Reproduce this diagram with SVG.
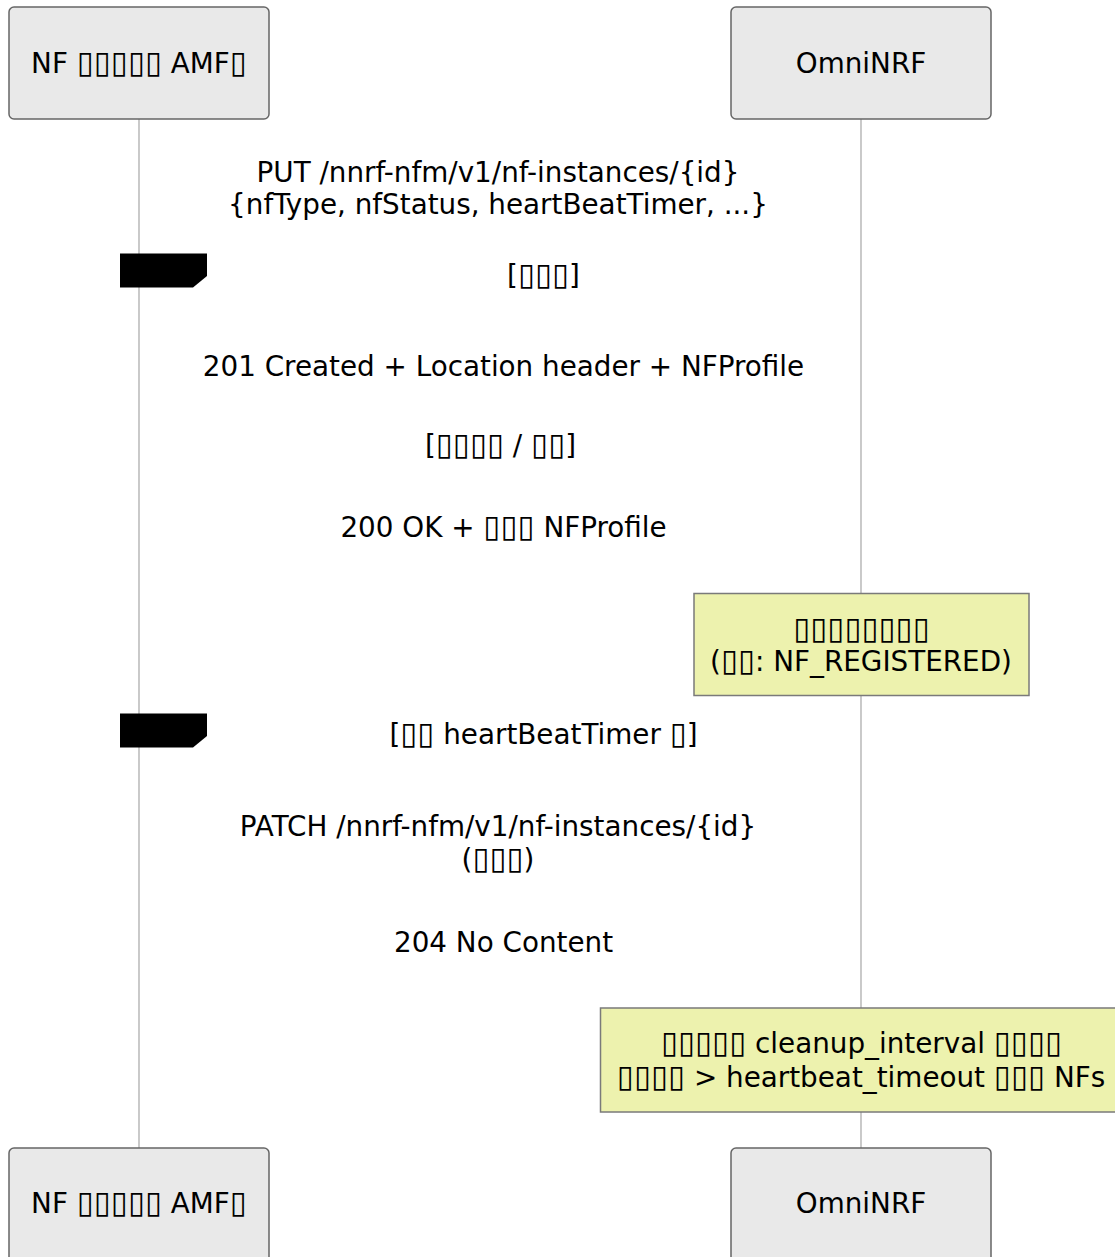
<svg xmlns="http://www.w3.org/2000/svg" width="1115" height="1257" viewBox="0 0 1115 1257">
<style>
text{font-family:"DejaVu Sans","Noto Sans CJK SC",sans-serif;font-size:27.8px;fill:#000;text-anchor:middle}
.b{font-size:31px}
.part{fill:#E9E9E9;stroke:#666;stroke-width:1.5}
.note{fill:#EDF2AE;stroke:#7A7A7A;stroke-width:1.5}
.life{stroke:#A6A6A6;stroke-width:1.2;fill:none}
.tag{fill:#000;stroke:none}
</style>
<rect width="1115" height="1257" fill="#FFFFFF"/>
<g id="connectors">
<line class="life" x1="139" y1="119" x2="139" y2="1148"/>
<line class="life" x1="861" y1="119" x2="861" y2="1148"/>
</g>
<g id="nf-top"><rect class="part" x="9" y="7" width="260" height="112" rx="5"/><text x="139" y="73">NF <tspan class="b">▯▯▯▯▯</tspan> AMF<tspan class="b">▯</tspan></text></g>
<g id="nrf-top"><rect class="part" x="731" y="7" width="260" height="112" rx="5"/><text x="861" y="73">OmniNRF</text></g>
<g id="nf-bottom"><rect class="part" x="9" y="1148" width="260" height="120" rx="5"/><text x="139" y="1213">NF <tspan class="b">▯▯▯▯▯</tspan> AMF<tspan class="b">▯</tspan></text></g>
<g id="nrf-bottom"><rect class="part" x="731" y="1148" width="260" height="120" rx="5"/><text x="861" y="1213">OmniNRF</text></g>
<g id="alt-first"><polygon class="tag" points="120,253.5 207,253.5 207,276 193,287.5 120,287.5"/><text x="543.5" y="285">[<tspan class="b">▯▯▯</tspan>]</text></g>
<g id="loop-heartbeat"><polygon class="tag" points="120,713.5 207,713.5 207,736 193,747.5 120,747.5"/><text x="543.5" y="744">[<tspan class="b">▯▯</tspan> heartBeatTimer <tspan class="b">▯</tspan>]</text></g>
<g id="msg-put"><text x="498" y="182">PUT /nnrf-nfm/v1/nf-instances/{id}</text><text x="498" y="214">{nfType, nfStatus, heartBeatTimer, ...}</text></g>
<g id="msg-201"><text x="503.5" y="376">201 Created + Location header + NFProfile</text></g>
<g id="alt-else"><text x="500.5" y="455">[<tspan class="b">▯▯▯▯</tspan> / <tspan class="b">▯▯</tspan>]</text></g>
<g id="msg-200"><text x="503.5" y="537">200 OK + <tspan class="b">▯▯▯</tspan> NFProfile</text></g>
<g id="note-registered"><rect class="note" x="694" y="593.5" width="335" height="102"/><text x="861.5" y="639"><tspan class="b">▯▯▯▯▯▯▯▯</tspan></text><text x="861" y="671">(<tspan class="b">▯▯</tspan>: NF_REGISTERED)</text></g>
<g id="msg-patch"><text x="498" y="836">PATCH /nnrf-nfm/v1/nf-instances/{id}</text><text x="498" y="869">(<tspan class="b">▯▯▯</tspan>)</text></g>
<g id="msg-204"><text x="503.5" y="952">204 No Content</text></g>
<g id="note-cleanup"><rect class="note" x="600.5" y="1008" width="530" height="104"/><text x="861.5" y="1053"><tspan class="b">▯▯▯▯▯</tspan> cleanup_interval <tspan class="b">▯▯▯▯</tspan></text><text x="861" y="1087"><tspan class="b">▯▯▯▯</tspan> &gt; heartbeat_timeout <tspan class="b">▯▯▯</tspan> NFs</text></g>
</svg>
